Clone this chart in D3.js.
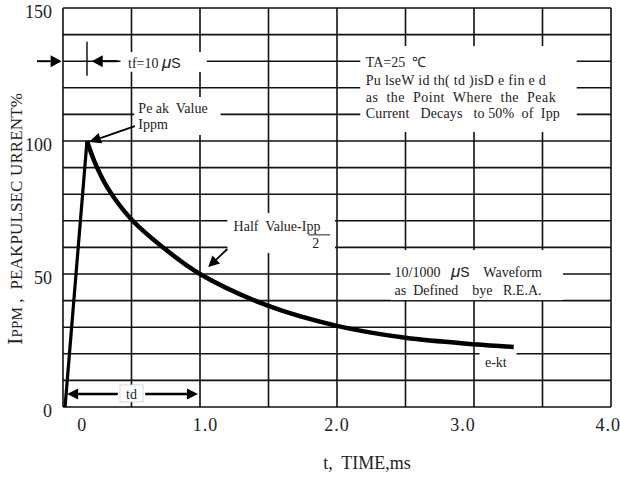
<!DOCTYPE html>
<html>
<head>
<meta charset="utf-8">
<script src="https://cdn.jsdelivr.net/npm/d3@7"></script>
<style>
  body { margin: 0; background: #fff; }
  text { font-family: "Liberation Serif", "Times New Roman", serif; fill: #222; white-space: pre; }
</style>
</head>
<body>
<div id="chart"></div>
<script>
  // decay curve (t in ms, current in % of Ippm)
  var riseT = [0.015, 0.175];
  var riseV = [0, 100];
  var decayT = [0.175, 0.24, 0.33, 0.5, 0.73, 1.0, 1.5, 2.0, 2.5, 3.0, 3.29];
  var decayV = [100, 91, 82, 70.5, 60, 50, 38, 30.5, 26, 23.6, 22.6];

  var xTickAt = [0.14, 1.04, 2.0, 2.92, 3.98];
  var xTickText = ["0", "1.0", "2.0", "3.0", "4.0"];
  var yTickAt = [0, 50, 100, 150];

  var width = 620, height = 477;
  var margin = {top: 8, right: 9, bottom: 70, left: 63};

  var svg = d3.select("#chart").append("svg")
      .attr("width", width)
      .attr("height", height);

  var x = d3.scaleLinear().domain([0, 4]).range([margin.left, width - margin.right]);
  var y = d3.scaleLinear().domain([0, 150]).range([height - margin.bottom, margin.top]);

  // grid
  var grid = svg.append("g").attr("class", "grid");
  grid.selectAll("line.v")
      .data(d3.range(0, 4.01, 0.5))
    .enter().append("line")
      .attr("x1", function(d) { return x(d); })
      .attr("x2", function(d) { return x(d); })
      .attr("y1", y(0)).attr("y2", y(150))
      .attr("stroke", "#111").attr("stroke-width", 1.6);
  grid.selectAll("line.h")
      .data(d3.range(0, 151, 10))
    .enter().append("line")
      .attr("y1", function(d) { return y(d); })
      .attr("y2", function(d) { return y(d); })
      .attr("x1", x(0)).attr("x2", x(4))
      .attr("stroke", "#111").attr("stroke-width", 1.6);

  // white boxes that break the grid behind the notes
  var boxes = [
    {t0: 0.42, t1: 1.05, v0: 126, v1: 133.5},
    {t0: 0.52, t1: 1.15, v0: 102.3, v1: 116.5},
    {t0: 2.17, t1: 3.75, v0: 103.4, v1: 135.7},
    {t0: 1.2, t1: 1.985, v0: 57.9, v1: 72.9},
    {t0: 2.39, t1: 3.65, v0: 40.2, v1: 59},
    {t0: 3.04, t1: 3.31, v0: 12, v1: 20.7},
    {t0: 0.416, t1: 0.584, v0: 1.9, v1: 8.3, border: true}
  ];
  svg.selectAll("rect.box")
      .data(boxes)
    .enter().append("rect")
      .attr("x", function(d) { return x(d.t0); })
      .attr("y", function(d) { return y(d.v1); })
      .attr("width", function(d) { return x(d.t1) - x(d.t0); })
      .attr("height", function(d) { return y(d.v0) - y(d.v1); })
      .attr("fill", "#fff")
      .attr("stroke", function(d) { return d.border ? "#ccc" : "none"; })
      .attr("stroke-width", 0.8);

  // the pulse
  var line = d3.line()
      .x(function(d) { return x(d[0]); })
      .y(function(d) { return y(d[1]); });

  svg.append("path")
      .datum(d3.zip(riseT, riseV))
      .attr("d", line)
      .attr("fill", "none")
      .attr("stroke", "#000")
      .attr("stroke-width", 3.2);

  svg.append("path")
      .datum(d3.zip(decayT, decayV))
      .attr("d", line.curve(d3.curveCatmullRom.alpha(0.5)))
      .attr("fill", "none")
      .attr("stroke", "#000")
      .attr("stroke-width", 4.5);

  // arrows: line from tail to tip, with a filled head at the tip
  function arrow(t0, v0, t1, v1, len, half, lw) {
    var x0 = x(t0), y0 = y(v0), x1 = x(t1), y1 = y(v1);
    var a = Math.atan2(y1 - y0, x1 - x0);
    var bx = x1 - len * Math.cos(a), by = y1 - len * Math.sin(a);
    svg.append("line")
        .attr("x1", x0).attr("y1", y0).attr("x2", bx).attr("y2", by)
        .attr("stroke", "#000").attr("stroke-width", lw);
    var p = [
      [x1, y1],
      [bx + half * Math.sin(a), by - half * Math.cos(a)],
      [bx - half * Math.sin(a), by + half * Math.cos(a)]
    ];
    svg.append("path")
        .attr("d", "M" + p.join("L") + "Z")
        .attr("fill", "#000");
  }

  arrow(-0.19, 130, -0.01, 130, 11, 6, 2);
  arrow(0.40, 130, 0.21, 130, 11, 6, 2);
  svg.append("line")
      .attr("x1", x(0.175)).attr("x2", x(0.175))
      .attr("y1", y(124.5)).attr("y2", y(137.3))
      .attr("stroke", "#000").attr("stroke-width", 1.4);
  arrow(0.525, 105.6, 0.19, 99.6, 12, 5.5, 1.8);
  arrow(1.2, 59.4, 1.06, 52.6, 11, 5.5, 1.8);
  arrow(0.4, 4.9, 0.03, 4.9, 11, 5.5, 2.6);
  arrow(0.6, 4.9, 0.985, 4.9, 11, 5.5, 2.6);

  // notes
  function note(t, v, str, size, anchor) {
    return svg.append("text")
        .attr("x", x(t)).attr("y", y(v))
        .attr("font-size", size || 14)
        .attr("text-anchor", anchor || "start")
        .text(str);
  }
  function micro(t, v, before, after) {
    var tx = svg.append("text")
        .attr("x", x(t)).attr("y", y(v))
        .attr("font-size", 14);
    tx.append("tspan").text(before);
    tx.append("tspan").attr("font-family", "Liberation Sans, Arial, sans-serif")
        .attr("font-style", "italic").attr("font-size", 17).text("\u03bc");
    tx.append("tspan").attr("font-family", "Liberation Sans, Arial, sans-serif")
        .attr("font-size", 14).text("S");
    tx.append("tspan").text(after);
    return tx;
  }

  micro(0.475, 127.4, "tf=10 ", "");
  note(0.55, 110.5, "Pe ak  Value");
  note(0.55, 104.5, "Ippm");

  note(2.21, 127.8, "TA=25  \u2103");
  note(2.21, 121.1, "Pu lseW id th( td )isD e fin e d").attr("textLength", 180);
  note(2.21, 114.7, "as  the  Point  Where  the  Peak").attr("textLength", 190);
  note(2.21, 108.6, "Current   Decays   to 50%  of  Ipp").attr("textLength", 194);

  note(1.245, 66.2, "Half  Value-Ipp");
  svg.append("line")
      .attr("x1", x(1.79)).attr("x2", x(1.95))
      .attr("y1", y(64.7)).attr("y2", y(64.7))
      .attr("stroke", "#222").attr("stroke-width", 1);
  note(1.82, 59.8, "2");

  micro(2.42, 48.9, "10/1000   ", "    Waveform");
  note(2.42, 42.1, "as  Defined    bye   R.E.A.");

  note(3.08, 15, "e-kt");
  note(0.5, 3, "td", 14, "middle");

  // tick labels
  svg.selectAll("text.xt")
      .data(xTickAt)
    .enter().append("text")
      .attr("x", function(d) { return x(d); })
      .attr("y", y(0) + 24)
      .attr("text-anchor", "middle")
      .attr("font-size", 18)
      .attr("letter-spacing", 1)
      .text(function(d, i) { return xTickText[i]; });

  svg.selectAll("text.yt")
      .data(yTickAt)
    .enter().append("text")
      .attr("x", 52)
      .attr("y", function(d) { return y(d) + 10; })
      .attr("text-anchor", "end")
      .attr("font-size", 18)
      .text(function(d) { return d; });

  // axis titles
  svg.append("text")
      .attr("x", 367).attr("y", 469)
      .attr("text-anchor", "middle")
      .attr("font-size", 18)
      .text("t,  TIME,ms");

  var yt = svg.append("text")
      .attr("transform", "translate(22,345) rotate(-90)")
      .attr("font-size", 17)
      .attr("textLength", 252)
      .attr("lengthAdjust", "spacing");
  yt.append("tspan").attr("font-size", 22).text("I");
  yt.append("tspan").attr("font-size", 15).text("PPM");
  yt.append("tspan").text(" ,  PEAKPULSEC URRENT%");
</script>
</body>
</html>
